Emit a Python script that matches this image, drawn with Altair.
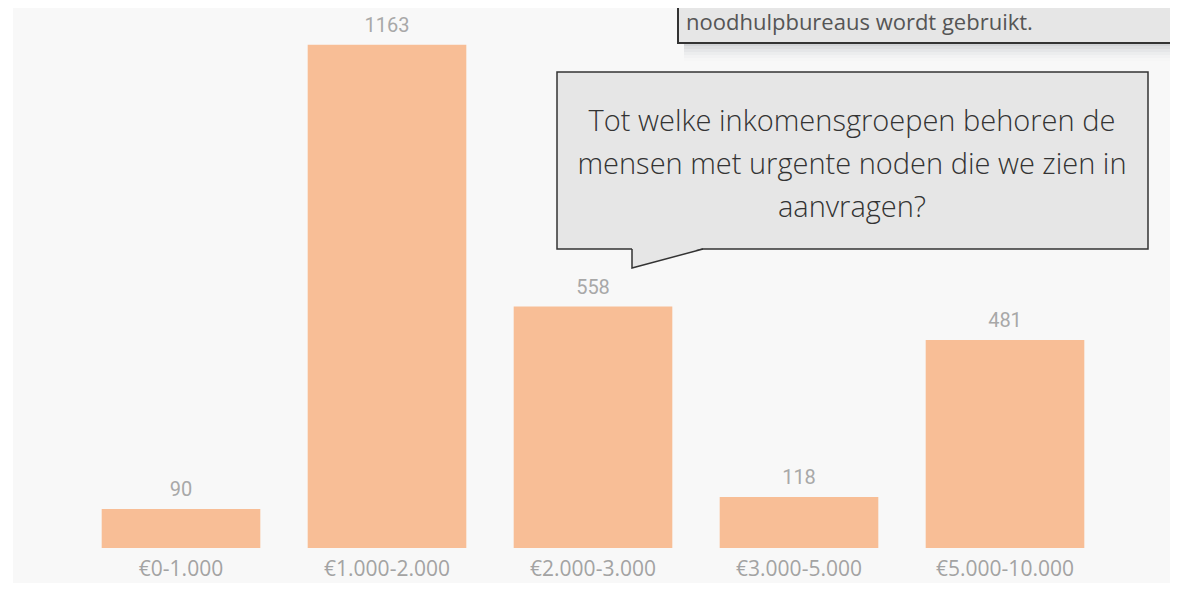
import altair as alt
import pandas as pd

categories = ["€0-1.000", "€1.000-2.000", "€2.000-3.000", "€3.000-5.000", "€5.000-10.000"]
values = [90, 1163, 558, 118, 481]

callout_lines = ["Tot welke inkomensgroepen behoren de",
                 "mensen met urgente noden die we zien in",
                 "aanvragen?"]
top_note = "noodhulpbureaus wordt gebruikt."

df = pd.DataFrame({"cat": categories, "val": values})

W, H = 1162, 540

x_enc = alt.X("cat:N", sort=categories, title=None,
              scale=alt.Scale(range=[70, 1100], paddingInner=0.23, paddingOuter=0.115),
              axis=alt.Axis(labelAngle=0, domain=False, ticks=False, labelPadding=10, zindex=1,
                            labelFontSize=21, labelColor="#a3a3a3", labelFont="Open Sans"))
y_enc = alt.Y("val:Q", title=None, scale=alt.Scale(domain=[0, 1248], nice=False), axis=None)

one = pd.DataFrame({"a": [0]})

bg = alt.Chart(one).mark_rect(color="#f8f8f8").encode(
    x=alt.value(5), x2=alt.value(W), y=alt.value(0), y2=alt.value(H + 40))

bars = alt.Chart(df).mark_bar(color="#F8BE96").encode(x=x_enc, y=y_enc)
labels = alt.Chart(df).mark_text(baseline="bottom", dy=-9, fontSize=20, color="#a8a8a8",
                                 font="Roboto").encode(x=alt.X("cat:N", sort=categories), y="val:Q", text="val:Q")

data_layer = alt.layer(bars, labels)

# top note box with shadow
shadow_layers = []
for i, op in enumerate([0.35, 0.25, 0.17, 0.1, 0.05, 0.02]):
    shadow_layers.append(alt.Chart(one).mark_rect(color="#8a8f99", opacity=op).encode(
        x=alt.value(676), x2=alt.value(W), y=alt.value(35 + i * 3), y2=alt.value(38 + i * 3)))
top_box = alt.Chart(one).mark_rect(fill="#e6e6e6", stroke="#333333", strokeWidth=2).encode(
    x=alt.value(670), x2=alt.value(W + 10), y=alt.value(-20), y2=alt.value(35))
top_text = alt.Chart(one).mark_text(text=top_note, align="left", baseline="alphabetic",
                                    fontSize=22, color="#555555", font="Open Sans").encode(
    x=alt.value(678), y=alt.value(22))

# callout
callout_box = alt.Chart(one).mark_rect(fill="#e6e6e6", stroke="#333333", strokeWidth=1.5).encode(
    x=alt.value(549), x2=alt.value(1140), y=alt.value(64), y2=alt.value(241))
tail_df = pd.DataFrame({"px": [624, 695], "py": [240, 240], "py2": [260, 240]})
tail_fill = alt.Chart(tail_df).mark_area(color="#e6e6e6").encode(
    x=alt.X("px:Q", scale=None, axis=None), y=alt.Y("py:Q", scale=None, axis=None), y2="py2:Q")
tail_line_df = pd.DataFrame({"px": [624, 624, 695], "py": [241, 260, 241], "o": [0, 1, 2]})
tail_line = alt.Chart(tail_line_df).mark_line(color="#333333", strokeWidth=1.5).encode(
    x=alt.X("px:Q", scale=None, axis=None), y=alt.Y("py:Q", scale=None, axis=None), order="o:Q")
callout_text = alt.Chart(one).mark_text(text=callout_lines, align="center", baseline="middle",
                                        lineHeight=43, fontSize=29, fontWeight=300,
                                        color="#333333", font="Open Sans").encode(
    x=alt.value(844), y=alt.value(114))

deco_top = alt.layer(*shadow_layers, top_box, top_text, callout_box, callout_text)
tail = alt.layer(tail_fill, tail_line)

chart = alt.layer(bg, data_layer, deco_top, tail).resolve_scale(
    x="independent", y="independent").properties(
    width=W, height=H,
    autosize=alt.AutoSizeParams(type="none"),
    padding={"left": 0, "top": 0, "right": 0, "bottom": 35},
    background="white",
).configure_view(stroke=None)

chart.save("out.html", embed_options={"renderer": "svg", "actions": False})
